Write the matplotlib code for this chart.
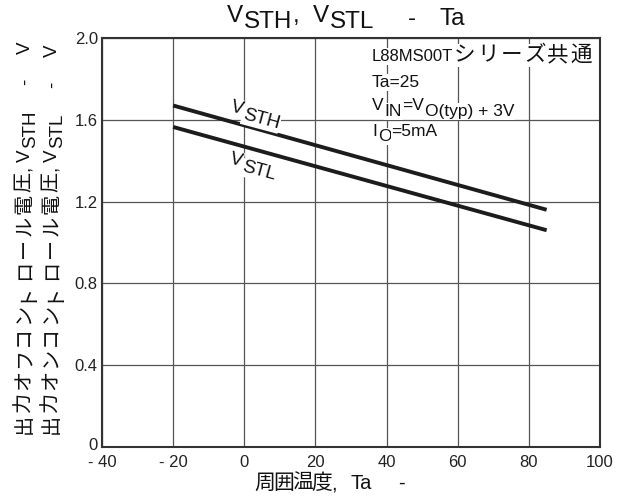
import matplotlib
matplotlib.use("Agg")
import matplotlib.pyplot as plt
import matplotlib.transforms as mtransforms
import numpy as np

plt.rcParams['font.family'] = ['Liberation Sans', 'Noto Sans CJK JP']

# --- data ---
temp = [-20, 85]
vsth = [1.67, 1.16]
vstl = [1.565, 1.06]

x_ticks = [-40, -20, 0, 20, 40, 60, 80, 100]
x_ticklabels = ["- 40", "- 20", "0", "20", "40", "60", "80", "100"]
y_ticks = [0, 0.4, 0.8, 1.2, 1.6, 2.0]
y_ticklabels = ["0", "0.4", "0.8", "1.2", "1.6", "2.0"]

W, H = 622, 497
fig = plt.figure(figsize=(W / 100, H / 100), dpi=100)
ax = fig.add_axes([102 / W, 1 - 447 / H, 498 / W, 409 / H])


def px(x, y):
    return x / W, 1 - y / H


def rich(x, y, parts, rotation=0, bg=False):
    """Draw text pieces one after another, some shifted down (subscripts).
    parts: (text, dy_px, size_pt, advance_px or None)"""
    renderer = fig.canvas.get_renderer()
    th = np.radians(rotation)
    adv = 0.0
    for s, dy, size, step in parts:
        if s == "":
            adv += step
            continue
        a = adv + (step / 2 if step else 0)
        ox = a * np.cos(th) - dy * np.sin(th)
        oy = a * np.sin(th) + dy * np.cos(th)
        tr = fig.transFigure + mtransforms.ScaledTranslation(ox / fig.dpi, oy / fig.dpi, fig.dpi_scale_trans)
        t = fig.text(x, y, s, transform=tr, fontsize=size,
                     ha="center" if step else "left", va="baseline",
                     rotation_mode="anchor", color="#111111")
        if bg:
            t.set_bbox(dict(fc="white", ec="none", pad=0.5))
        if step:
            adv += step
        else:
            adv += t.get_window_extent(renderer).width
        t.set_rotation(rotation)


ax.plot(temp, vsth, color="#1c1c1c", lw=2.8, solid_capstyle="butt")
ax.plot(temp, vstl, color="#1c1c1c", lw=2.8, solid_capstyle="butt")

ax.set_xlim(-40, 100)
ax.set_ylim(0, 2.0)
ax.set_xticks(x_ticks)
ax.set_xticklabels(x_ticklabels)
ax.set_yticks(y_ticks)
ax.set_yticklabels(y_ticklabels)
ax.tick_params(length=0, labelsize=12, colors="#222222")
ax.tick_params(axis="x", pad=6)
ax.tick_params(axis="y", pad=3)
for lab in ax.get_yticklabels():
    lab.set_verticalalignment("center_baseline")
# lift the "0" label a little so it clears "- 40"
zero = ax.get_yticklabels()[0]
zero.set_transform(zero.get_transform() + mtransforms.ScaledTranslation(0, 3 / 100, fig.dpi_scale_trans))
ax.grid(True, color="#555555", lw=0.9)
for sp in ax.spines.values():
    sp.set_linewidth(1.5)
    sp.set_color("#333333")

# title
title = [("V", 0, 17.5, None), ("", 0, 0, 1), ("STH", -6, 17.5, None), (",", 0, 17.5, None),
         ("", 0, 0, 14), ("V", 0, 17.5, None), ("", 0, 0, 1), ("STL", -6, 17.5, None),
         ("", 0, 0, 33), ("-", -3, 17.5, None), ("", 0, 0, 24), ("Ta", -3, 17.5, None)]
rich(*px(227, 22), title)

# y labels (two rotated lines)
for xb, cjk, sub in [(30, "出力オフコントロール電圧", "STH"), (57, "出力オンコントロール電圧", "STL")]:
    parts = [(ch, 0, 14.5, 22) for ch in cjk]
    parts += [(",", 0, 13.5, None), ("", 0, 0, 4), ("V", 0, 13.5, None), ("", 0, 0, 1),
              (sub, -5, 13.5, None), ("", 0, 0, 26), ("-", 0, 13.5, None), ("", 0, 0, 25),
              ("V", 0, 13.5, None)]
    rich(*px(xb, 435), parts, rotation=90)

# x label
xl = [(ch, 0, 15, 19) for ch in "周囲温度"]
xl += [(",", 0, 14.5, None), ("", 0, 0, 14), ("Ta", 0, 14.5, None), ("", 0, 0, 26), ("-", 0, 14.5, None)]
rich(*px(255, 489), xl)

# conditions box
line1 = [("L88MS00T", 0, 12, None)] + [(ch, 0, 15.5, 23.3) for ch in "シリーズ共通"]
rich(*px(372, 61), line1, bg=True)
rich(*px(372, 87), [("Ta=25", 0, 12.5, None)], bg=True)
rich(*px(372, 110), [("V", 0, 12.5, None), ("", 0, 0, 1), ("IN", -6, 12.5, None), ("=V", 0, 12.5, None),
                     ("", 0, 0, 1), ("O(typ) + 3V", -6, 12.5, None)], bg=True)
rich(*px(372, 136), [("I", 0, 12.5, None), ("", 0, 0, 1), ("O", -5, 12.5, None), ("=5mA", 0, 12.5, None)], bg=True)

# curve labels
rich(*px(230, 111), [("V", 0, 13.5, None), ("", 0, 0, 1), ("STH", -5, 13.5, None)], rotation=-15, bg=True)
rich(*px(229, 163), [("V", 0, 13.5, None), ("", 0, 0, 1), ("STL", -5, 13.5, None)], rotation=-15, bg=True)

fig.savefig("out.png", dpi=100)
